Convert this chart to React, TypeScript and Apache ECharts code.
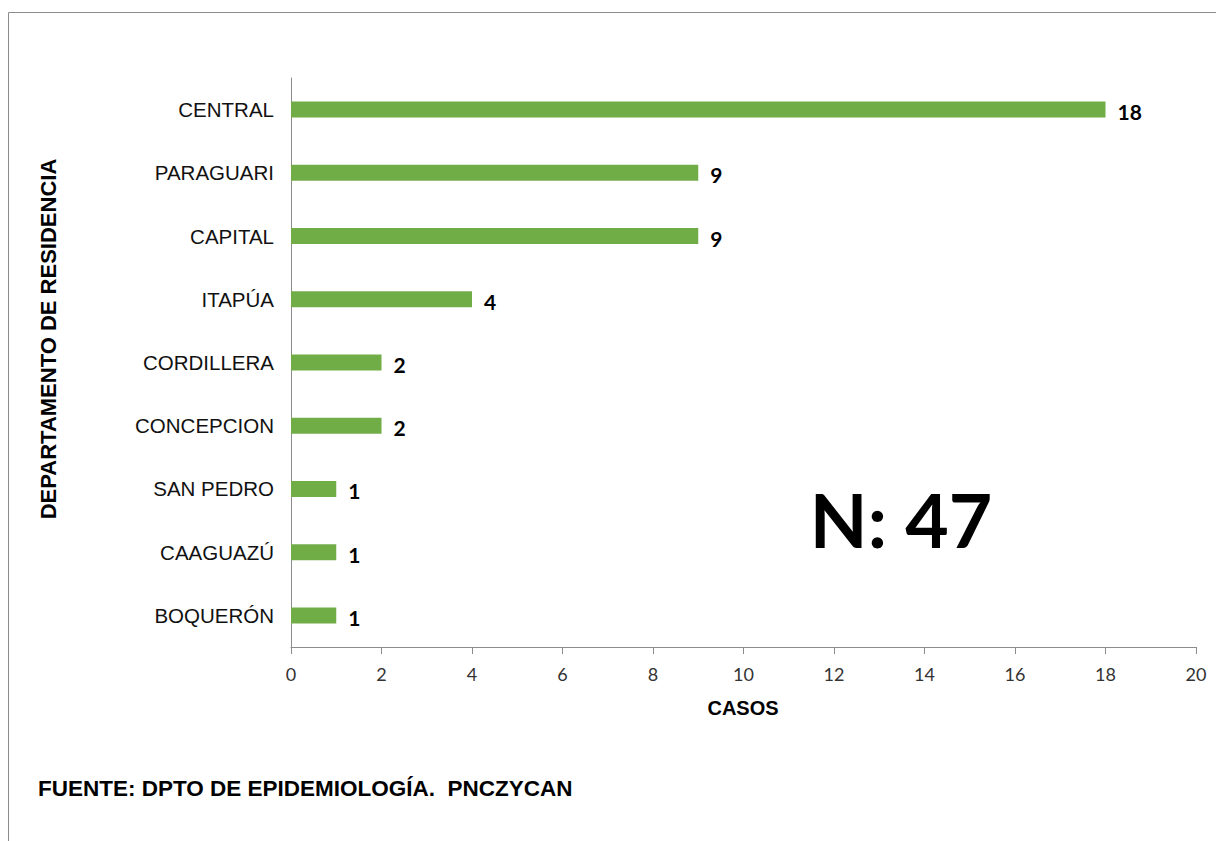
import React, { useEffect, useRef } from "react";
import * as echarts from "echarts";

const categories = ["BOQUERÓN", "CAAGUAZÚ", "SAN PEDRO", "CONCEPCION", "CORDILLERA", "ITAPÚA", "CAPITAL", "PARAGUARI", "CENTRAL"];
const casos = [1, 1, 1, 2, 2, 4, 9, 9, 18];
const xTicks = { min: 0, max: 20, interval: 2 };
const yTitle = "DEPARTAMENTO DE RESIDENCIA";
const xTitle = "CASOS";
const fuente = "FUENTE: DPTO DE EPIDEMIOLOGÍA.  PNCZYCAN";
const total = "N: 47";

export default function App() {
  const ref = useRef<HTMLDivElement>(null);
  useEffect(() => {
    if (!ref.current) return;
    const chart = echarts.init(ref.current, null, { renderer: "svg" });
    chart.setOption({
      animation: false,
      backgroundColor: "#ffffff",
      grid: { left: 291, right: 20, top: 78, bottom: 194, containLabel: false },
      xAxis: {
        type: "value",
        min: xTicks.min,
        max: xTicks.max,
        interval: xTicks.interval,
        splitLine: { show: false },
        axisLine: { show: true, lineStyle: { color: "#8c8c8c", width: 1 } },
        axisTick: { show: true, length: 7, lineStyle: { color: "#8c8c8c" } },
        axisLabel: { color: "#333333", fontSize: 18, fontFamily: "Lato", margin: 18 },
      },
      yAxis: {
        type: "category",
        data: categories,
        axisLine: { show: true, lineStyle: { color: "#8c8c8c", width: 1 } },
        axisTick: { show: false },
        axisLabel: { color: "#111111", fontSize: 20.5, fontFamily: "Liberation Sans", margin: 17 },
      },
      series: [
        {
          type: "bar",
          data: casos,
          barWidth: 16,
          itemStyle: { color: "#70AD47" },
          label: {
            show: true,
            position: "right",
            distance: 12,
            color: "#000000",
            fontSize: 21,
            fontWeight: "bold",
            fontFamily: "Lato",
            offset: [0, 2],
          },
        },
      ],
      graphic: [
        {
          type: "rect",
          shape: { x: 8.5, y: 12.5, width: 1400, height: 1000 },
          style: { fill: "none", stroke: "#8c8c8c", lineWidth: 1 },
          silent: true,
        },
        {
          type: "text",
          x: 48,
          y: 339,
          rotation: Math.PI / 2,
          style: {
            text: yTitle,
            fontSize: 22,
            fontWeight: "bold",
            fontFamily: "Liberation Sans",
            fill: "#000000",
            align: "center",
            verticalAlign: "middle",
          },
        },
        {
          type: "text",
          x: 743,
          y: 708,
          style: {
            text: xTitle,
            fontSize: 20,
            fontWeight: "bold",
            fontFamily: "Liberation Sans",
            fill: "#000000",
            align: "center",
            verticalAlign: "middle",
          },
        },
        {
          type: "text",
          x: 38,
          y: 788,
          style: {
            text: fuente,
            fontSize: 22.5,
            fontWeight: "bold",
            fontFamily: "Liberation Sans",
            fill: "#000000",
            align: "left",
            verticalAlign: "middle",
          },
        },
        {
          type: "text",
          x: 901,
          y: 519,
          style: {
            text: total,
            fontSize: 75,
            fontWeight: "bold",
            fontFamily: "Lato",
            fill: "#000000",
            align: "center",
            verticalAlign: "middle",
          },
        },
      ],
    });
    return () => chart.dispose();
  }, []);
  return (
    <div
      ref={ref}
      style={{ position: "fixed", left: 0, top: 0, width: 1216, height: 841 }}
    />
  );
}
